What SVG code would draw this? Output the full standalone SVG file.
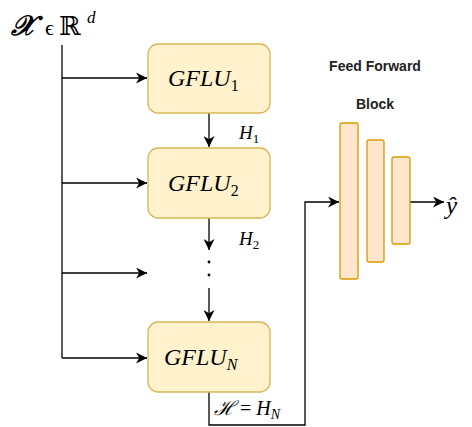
<svg xmlns="http://www.w3.org/2000/svg" width="472" height="427" viewBox="0 0 472 427">
<defs>
<marker id="ah" viewBox="0 0 10 10" refX="10" refY="5" markerWidth="11" markerHeight="11" markerUnits="userSpaceOnUse" orient="auto">
<path d="M0,0 L10,5 L0,10 L3,5 Z" fill="#000"/>
</marker>
<style>
.box{fill:#fff2cc;stroke:#d6b656;stroke-width:1.3}
.bar{fill:#ffe6cc;stroke:#d79b00;stroke-width:1.3}
.ln{fill:none;stroke:#000;stroke-width:1.3}
.m{font-family:"Liberation Serif","DejaVu Serif",serif;font-style:italic;fill:#000}
.b{font-family:"Liberation Sans",Arial,sans-serif;font-weight:bold;font-size:14px;fill:#222;text-anchor:middle}
</style>
</defs>
<rect width="472" height="427" fill="#fff"/>
<g id="connectors">
<path class="ln" d="M62,45 V358"/>
<path class="ln" d="M62,78 H147" marker-end="url(#ah)"/>
<path class="ln" d="M62,183 H147" marker-end="url(#ah)"/>
<path class="ln" d="M62,273 H147" marker-end="url(#ah)"/>
<path class="ln" d="M62,358 H147" marker-end="url(#ah)"/>
<path class="ln" d="M209,113 V147" marker-end="url(#ah)"/>
<path class="ln" d="M209,218 V250" marker-end="url(#ah)"/>
<circle cx="209" cy="262" r="1.4"/>
<circle cx="209" cy="275" r="1.4"/>
<path class="ln" d="M209,288 V321" marker-end="url(#ah)"/>
<path class="ln" d="M209,392 V425 H305 V202 H339" marker-end="url(#ah)"/>
<path class="ln" d="M410,202 H444" marker-end="url(#ah)"/>
</g>
<g id="input">
<text class="m" x="11" y="35" font-size="28" font-weight="bold" font-family="'DejaVu Serif',serif">𝒳</text>
<text class="m" x="45" y="35" font-size="22" style="font-style:normal" font-family="'DejaVu Serif',serif">ϵ</text>
<text x="59" y="35" font-size="26" font-family="'DejaVu Serif',serif">ℝ</text>
<text class="m" x="87" y="23" font-size="17">d</text>
</g>
<g id="gflu1">
<rect class="box" x="148" y="44" width="122" height="69" rx="10"/>
<text class="m" x="168" y="86" font-size="24">GFLU<tspan font-size="16" dy="5" style="font-style:normal">1</tspan></text>
</g>
<g id="gflu2">
<rect class="box" x="148" y="148" width="122" height="70" rx="10"/>
<text class="m" x="168" y="191" font-size="24">GFLU<tspan font-size="16" dy="5" style="font-style:normal">2</tspan></text>
</g>
<g id="gfluN">
<rect class="box" x="148" y="322" width="122" height="70" rx="10"/>
<text class="m" x="164" y="365" font-size="24">GFLU<tspan font-size="16" dy="5">N</tspan></text>
</g>
<g id="labels">
<text class="m" x="239" y="139" font-size="19">H<tspan font-size="13" dy="4" style="font-style:normal">1</tspan></text>
<text class="m" x="239" y="245" font-size="19">H<tspan font-size="13" dy="4" style="font-style:normal">2</tspan></text>
<text class="m" x="214" y="415" font-size="20"><tspan font-family="'DejaVu Serif',serif">ℋ</tspan><tspan style="font-style:normal"> = </tspan>H<tspan font-size="14" dy="4">N</tspan></text>
<text class="m" x="446" y="214" font-size="25">ŷ</text>
</g>
<g id="ffblock">
<text class="b" x="375" y="71">Feed Forward</text>
<text class="b" x="375" y="109">Block</text>
<rect class="bar" x="340" y="123" width="18" height="156" rx="2"/>
<rect class="bar" x="367" y="140" width="17" height="122" rx="2"/>
<rect class="bar" x="392" y="157" width="18" height="87" rx="2"/>
</g>
</svg>
